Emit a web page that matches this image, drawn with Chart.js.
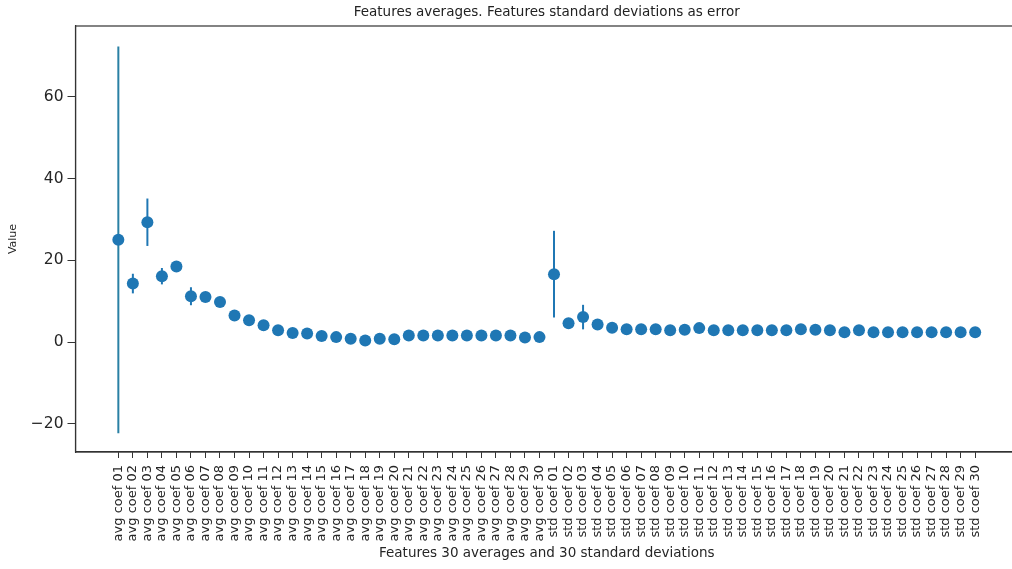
<!DOCTYPE html>
<html>
<head>
<meta charset="utf-8">
<script src="https://cdn.jsdelivr.net/npm/chart.js@4/dist/chart.umd.min.js"></script>
<style>
  html, body { margin: 0; padding: 0; background: #ffffff; overflow: hidden; }
  #wrap { width: 1012px; height: 569px; overflow: hidden; }
  canvas { display: block; }
</style>
</head>
<body>
<div id="wrap"><canvas id="c" width="1024" height="569" style="width:1024px;height:569px"></canvas></div>
<script>
// ---- data ----
const featureLabels = [
  'avg coef 01','avg coef 02','avg coef 03','avg coef 04','avg coef 05','avg coef 06',
  'avg coef 07','avg coef 08','avg coef 09','avg coef 10','avg coef 11','avg coef 12',
  'avg coef 13','avg coef 14','avg coef 15','avg coef 16','avg coef 17','avg coef 18',
  'avg coef 19','avg coef 20','avg coef 21','avg coef 22','avg coef 23','avg coef 24',
  'avg coef 25','avg coef 26','avg coef 27','avg coef 28','avg coef 29','avg coef 30',
  'std coef 01','std coef 02','std coef 03','std coef 04','std coef 05','std coef 06',
  'std coef 07','std coef 08','std coef 09','std coef 10','std coef 11','std coef 12',
  'std coef 13','std coef 14','std coef 15','std coef 16','std coef 17','std coef 18',
  'std coef 19','std coef 20','std coef 21','std coef 22','std coef 23','std coef 24',
  'std coef 25','std coef 26','std coef 27','std coef 28','std coef 29','std coef 30'
];
const avgValues = [25.0, 14.3, 29.3, 16.1, 18.5, 11.2, 11.0, 9.8, 6.5, 5.3,
                   4.1, 2.9, 2.2, 2.1, 1.5, 1.2, 0.8, 0.4, 0.8, 0.7,
                   1.6, 1.6, 1.6, 1.6, 1.6, 1.6, 1.6, 1.6, 1.1, 1.2];
const avgErrors = [47.3, 2.4, 5.8, 2.0, 1.0, 2.2, 1.0, 1.0, 0.9, 0.8,
                   0.8, 0.7, 0.6, 0.6, 0.5, 0.5, 0.5, 0.5, 0.5, 0.5,
                   0.5, 0.5, 0.5, 0.5, 0.5, 0.5, 0.5, 0.5, 0.5, 0.5];
const stdValues = [16.6, 4.6, 6.1, 4.3, 3.5, 3.1, 3.1, 3.1, 2.9, 3.0,
                   3.4, 2.9, 2.9, 2.9, 2.9, 2.9, 2.9, 3.1, 3.0, 2.9,
                   2.4, 2.9, 2.4, 2.4, 2.4, 2.4, 2.4, 2.4, 2.4, 2.4];
const stdErrors = [10.6, 1.2, 3.0, 1.0, 0.8, 0.7, 0.7, 0.7, 0.6, 0.6,
                   0.6, 0.6, 0.6, 0.6, 0.6, 0.6, 0.6, 0.6, 0.6, 0.6,
                   0.6, 0.6, 0.6, 0.6, 0.6, 0.6, 0.6, 0.6, 0.6, 0.6];
const yTickValues = [-20, 0, 20, 40, 60];

const allValues = avgValues.concat(stdValues);
const allErrors = avgErrors.concat(stdErrors);
const points = allValues.map((v, i) => ({ x: i, y: v, err: allErrors[i] }));

const BLUE = '#1f77b4';
const FONT = "'DejaVu Sans', 'Liberation Sans', sans-serif";

const errorBarPlugin = {
  id: 'errorBars',
  beforeDatasetsDraw(chart) {
    const ctx = chart.ctx;
    const xs = chart.scales.x, ys = chart.scales.y;
    ctx.save();
    ctx.lineWidth = 2;
    points.forEach((p, i) => {
      const px = xs.getPixelForValue(p.x);
      ctx.strokeStyle = i === 0 ? '#2a80a4' : BLUE;
      ctx.beginPath();
      ctx.moveTo(px, ys.getPixelForValue(p.y + p.err));
      ctx.lineTo(px, ys.getPixelForValue(p.y - p.err));
      ctx.stroke();
    });
    ctx.restore();
  }
};

const framePlugin = {
  id: 'frame',
  afterDraw(chart) {
    const a = chart.chartArea, ctx = chart.ctx;
    ctx.save();
    ctx.strokeStyle = '#333333';
    ctx.lineWidth = 1.2;
    ctx.strokeRect(a.left, a.top, a.right - a.left, a.bottom - a.top);
    ctx.restore();
  }
};

new Chart(document.getElementById('c'), {
  type: 'scatter',
  data: {
    datasets: [{
      data: points,
      pointRadius: 6,
      pointHoverRadius: 6,
      pointBackgroundColor: BLUE,
      pointBorderWidth: 0,
      showLine: false
    }]
  },
  options: {
    responsive: false,
    animation: false,
    devicePixelRatio: 1,
    layout: { padding: { left: 0, right: 2, top: 0, bottom: 0 } },
    plugins: {
      legend: { display: false },
      tooltip: { enabled: false },
      title: {
        display: true,
        fullSize: false,
        text: 'Features averages. Features standard deviations as error',
        color: '#222222',
        font: { family: FONT, size: 13.5, weight: 'normal' },
        padding: { top: 4, bottom: 5.8 }
      }
    },
    scales: {
      x: {
        type: 'linear',
        min: -2.95,
        max: featureLabels.length - 1 + 2.95,
        afterBuildTicks(scale) {
          scale.ticks = featureLabels.map((_, i) => ({ value: i }));
        },
        afterFit(scale) { scale.height = 117; },
        ticks: {
          autoSkip: false,
          maxRotation: 90,
          minRotation: 90,
          padding: 7,
          color: '#262626',
          font: { family: FONT, size: 13 },
          callback: (v) => featureLabels[v]
        },
        grid: { drawOnChartArea: false, tickLength: 6, tickColor: '#333333', tickWidth: 1 },
        border: { display: true, color: '#333333', width: 1.2 },
        title: {
          display: true,
          text: 'Features 30 averages and 30 standard deviations',
          color: '#262626',
          font: { family: FONT, size: 13.5 },
          padding: { top: 0, bottom: 7 }
        }
      },
      y: {
        type: 'linear',
        min: -26.9,
        max: 77.3,
        afterBuildTicks(scale) {
          scale.ticks = yTickValues.map(v => ({ value: v }));
        },
        afterFit(scale) { scale.width = 75.5; },
        ticks: {
          padding: 4,
          color: '#262626',
          font: { family: FONT, size: 15.5 },
          callback: (v) => (v < 0 ? '\u2212' + Math.abs(v) : String(v))
        },
        grid: { drawOnChartArea: false, tickLength: 8, tickColor: '#333333', tickWidth: 1 },
        border: { display: true, color: '#333333', width: 1.2 },
        title: {
          display: true,
          text: 'Value',
          color: '#262626',
          font: { family: FONT, size: 11 },
          padding: { top: 7, bottom: 0 }
        }
      }
    }
  },
  plugins: [errorBarPlugin, framePlugin]
});
</script>
</body>
</html>
